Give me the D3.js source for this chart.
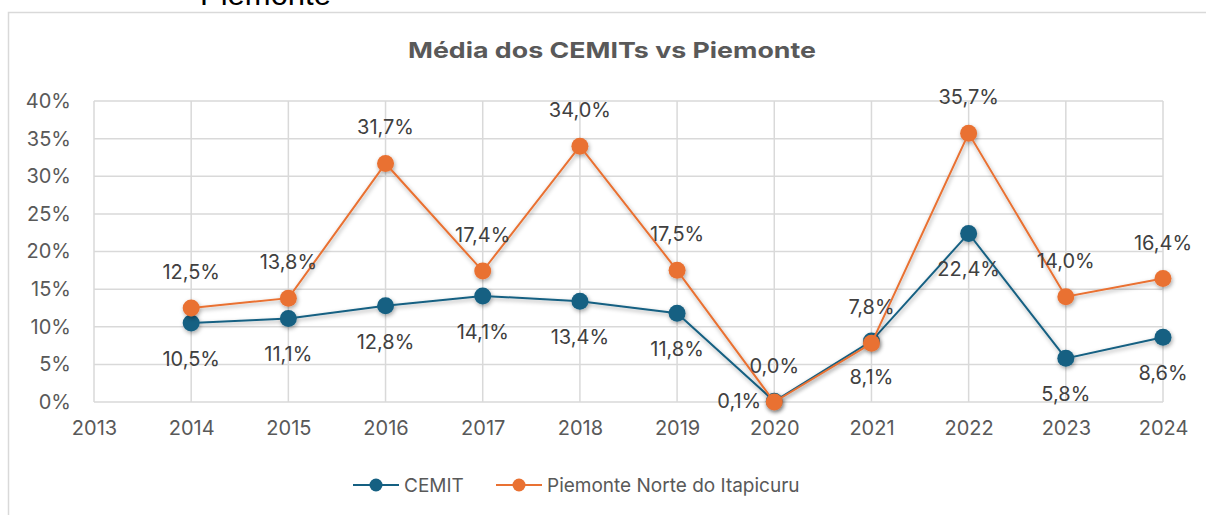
<!DOCTYPE html>
<html lang="pt">
  <head>
    <meta charset="utf-8">
    <title>Média dos CEMITs vs Piemonte</title>
    <script src="https://d3js.org/d3.v7.min.js"></script>
    <style>
      body { margin: 0; background: #fff; }
      svg text { font-family: Inter, "Liberation Sans", sans-serif; }
    </style>
  </head>
  <body>
    <div id="chart"></div>
    <script>
      // data
      var years = ["2013", "2014", "2015", "2016", "2017", "2018", "2019", "2020", "2021", "2022", "2023", "2024"];
      var cemit = [null, 10.5, 11.1, 12.8, 14.1, 13.4, 11.8, 0.1, 8.1, 22.4, 5.8, 8.6];
      var piemonte = [null, 12.5, 13.8, 31.7, 17.4, 34.0, 17.5, 0.0, 7.8, 35.7, 14.0, 16.4];
      var yTicks = [0, 5, 10, 15, 20, 25, 30, 35, 40];
      var seriesNames = ["CEMIT", "Piemonte Norte do Itapicuru"];
      var colors = ["#156082", "#E97132"];

      var W = 1206, H = 515;
      var margin = {top: 101, right: 43, bottom: 113, left: 94},
          width = W - margin.left - margin.right,
          height = H - margin.top - margin.bottom;

      var svg = d3.select("#chart").append("svg")
          .attr("width", W)
          .attr("height", H);

      var defs = svg.append("defs");
      var f = defs.append("filter").attr("id", "shadow")
          .attr("x", "-20%").attr("y", "-20%").attr("width", "140%").attr("height", "140%");
      f.append("feDropShadow").attr("dx", 1).attr("dy", 2).attr("stdDeviation", 2)
          .attr("flood-color", "#000").attr("flood-opacity", 0.35);

      // cut-off text above the chart (it is cut in the original too)
      svg.append("text")
          .attr("x", 200).attr("y", 5)
          .style("font-family", "'Liberation Sans', Arial, sans-serif")
          .style("font-size", "31px")
          .attr("fill", "#000")
          .text("Piemonte");

      // chart frame (runs off the right and bottom of the picture)
      svg.append("rect")
          .attr("x", 8.5).attr("y", 12.5)
          .attr("width", W + 20).attr("height", H + 20)
          .attr("fill", "none").attr("stroke", "#d9d9d9").attr("stroke-width", 1.5);

      svg.append("text")
          .attr("x", 612).attr("y", 58)
          .attr("text-anchor", "middle")
          .attr("textLength", 408).attr("lengthAdjust", "spacingAndGlyphs")
          .style("font-size", "22px").style("font-weight", "bold")
          .attr("fill", "#595959")
          .text("Média dos CEMITs vs Piemonte");

      var g = svg.append("g")
          .attr("transform", "translate(" + margin.left + "," + margin.top + ")");

      var x = d3.scalePoint().domain(years).range([0, width]);
      var y = d3.scaleLinear().domain([0, 40]).range([height, 0]);

      // gridlines
      g.append("g").selectAll("line").data(yTicks).enter().append("line")
          .attr("x1", 0).attr("x2", width)
          .attr("y1", function(d) { return y(d); }).attr("y2", function(d) { return y(d); })
          .attr("stroke", "#d9d9d9").attr("stroke-width", 1.5);
      g.append("g").selectAll("line").data(years).enter().append("line")
          .attr("x1", function(d) { return x(d); }).attr("x2", function(d) { return x(d); })
          .attr("y1", 0).attr("y2", height)
          .attr("stroke", "#d9d9d9").attr("stroke-width", 1.5);

      // axes
      var yAxis = g.append("g")
          .call(d3.axisLeft(y).tickValues(yTicks).tickSize(0).tickPadding(23)
            .tickFormat(function(d) { return d + "%"; }));
      yAxis.select(".domain").remove();
      yAxis.selectAll("text").style("font-size", "20px").attr("fill", "#595959");

      var xAxis = g.append("g")
          .attr("transform", "translate(0," + height + ")")
          .call(d3.axisBottom(x).tickSize(0).tickPadding(19));
      xAxis.select(".domain").remove();
      xAxis.selectAll("text").style("font-size", "20px").attr("fill", "#595959");

      var fmt = function(v) { return v.toFixed(1).replace(".", ",") + "%"; };

      var all = [cemit, piemonte];
      all.forEach(function(vals, i) {
        var pts = years.map(function(yr, k) { return {year: yr, v: vals[k]}; })
            .filter(function(d) { return d.v !== null; });
        var sg = g.append("g").attr("filter", "url(#shadow)");
        sg.append("path").datum(pts)
            .attr("fill", "none").attr("stroke", colors[i]).attr("stroke-width", 2)
            .attr("d", d3.line().x(function(d) { return x(d.year); }).y(function(d) { return y(d.v); }));
        sg.selectAll("circle").data(pts).enter().append("circle")
            .attr("cx", function(d) { return x(d.year); })
            .attr("cy", function(d) { return y(d.v); })
            .attr("r", 8.5)
            .attr("fill", colors[i]);
      });

      // data labels: orange above, blue below (2020 blue to the left)
      all.forEach(function(vals, i) {
        var pts = years.map(function(yr, k) { return {year: yr, v: vals[k]}; })
            .filter(function(d) { return d.v !== null; });
        g.append("g").selectAll("text").data(pts).enter().append("text")
            .attr("x", function(d) {
              if (i === 0 && d.year === "2020") return x(d.year) - 13;
              return x(d.year);
            })
            .attr("y", function(d) {
              if (i === 0 && d.year === "2020") return y(d.v);
              return i === 0 ? y(d.v) + 36 : y(d.v) - 36;
            })
            .attr("dy", "0.35em")
            .attr("text-anchor", function(d) {
              return (i === 0 && d.year === "2020") ? "end" : "middle";
            })
            .style("font-size", "20px")
            .attr("fill", "#404040")
            .text(function(d) { return fmt(d.v); });
      });

      // legend
      var legend = svg.append("g").attr("transform", "translate(0,485)");
      var legendX = [353, 496];
      seriesNames.forEach(function(name, i) {
        var lg = legend.append("g").attr("transform", "translate(" + legendX[i] + ",0)");
        lg.append("line").attr("x1", 0).attr("x2", 46).attr("y1", 0).attr("y2", 0)
            .attr("stroke", colors[i]).attr("stroke-width", 2);
        lg.append("circle").attr("cx", 23).attr("cy", 0).attr("r", 6.5).attr("fill", colors[i]);
        lg.append("text").attr("x", 51).attr("y", 0).attr("dy", "0.35em")
            .style("font-size", "19px").attr("fill", "#595959")
            .text(name);
      });
    </script>
  </body>
</html>
